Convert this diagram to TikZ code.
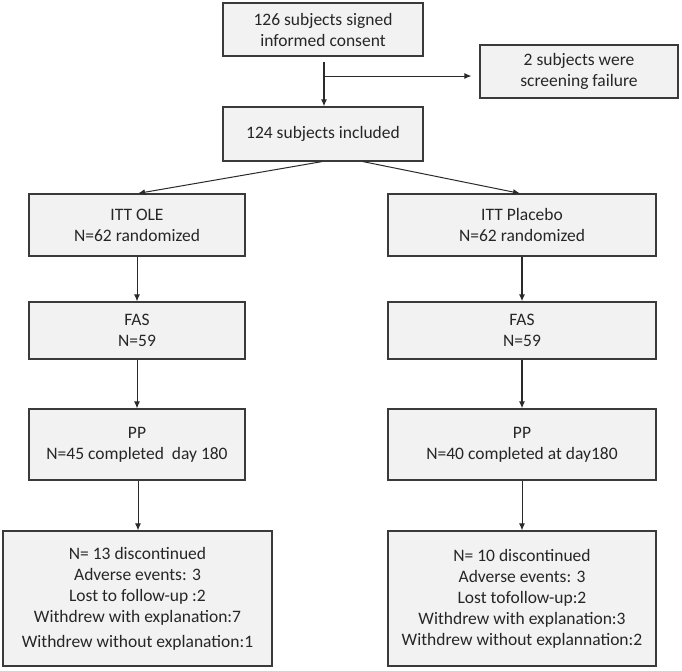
\documentclass[tikz,border=0pt]{standalone}
\usepackage{fontspec}
\setmainfont{Carlito}
\usetikzlibrary{arrows.meta}
\definecolor{boxfill}{HTML}{F2F2F2}
\definecolor{boxline}{HTML}{3A3A3A}
\definecolor{arrline}{HTML}{2A2A2A}
\tikzset{
  box/.style={draw=boxline, line width=1.2pt, fill=boxfill, align=center, inner sep=0pt,
    font=\fontsize{17.5}{21}\selectfont, text=black!85},
  arr/.style={draw=arrline, line width=1pt, -{Latex[length=7pt,width=6pt]}},
  arrthick/.style={arr, line width=1.8pt}
}
\begin{document}
\begin{tikzpicture}[x=1pt,y=-1pt]
\useasboundingbox (0,0) rectangle (682,670);
\node[box, minimum width=200pt, minimum height=53pt] (top) at (323,29.5) {126 subjects signed\\informed consent};
\node[box, minimum width=198pt, minimum height=53pt] (scr) at (579,71.5) {2 subjects were\\screening failure};
\node[box, minimum width=200pt, minimum height=54pt] (inc) at (323,134) {124 subjects included};
\node[box, minimum width=216pt, minimum height=62pt] (ittL) at (137,225) {ITT OLE\\N=62 randomized};
\node[box, minimum width=268pt, minimum height=62pt] (ittR) at (522,225) {ITT Placebo\\N=62 randomized};
\node[box, minimum width=216pt, minimum height=57pt] (fasL) at (137,330.5) {FAS\\N=59};
\node[box, minimum width=268pt, minimum height=57pt] (fasR) at (522,330.5) {FAS\\N=59};
\node[box, minimum width=216pt, minimum height=71pt] (ppL) at (137,444.5) {PP\\N=45 completed\ \ day 180};
\node[box, minimum width=268pt, minimum height=71pt] (ppR) at (522,444.5) {PP\\N=40 completed at day180};
\node[box, minimum width=269pt, minimum height=135pt] (disL) at (137.5,598.5) {N= 13 discontinued\\Adverse events: 3\\Lost to follow-up :2\\Withdrew with explanation:7\\[4pt]Withdrew without explanation:1};
\node[box, minimum width=268pt, minimum height=135pt] (disR) at (522,598.5) {N= 10 discontinued\\Adverse events: 3\\Lost tofollow-up:2\\Withdrew with explanation:3\\Withdrew without explannation:2};
\coordinate (br) at (324,76);
\draw[arrthick] ([xshift=1pt,yshift=-5pt]top.south) -- ([xshift=1pt]inc.north);
\draw[arr] (br) -- ([xshift=-8pt]br -| scr.west);
\draw[arr] ([xshift=-1pt]inc.south) -- ([xshift=1pt]ittL.north);
\draw[arr] ([xshift=40pt]inc.south) -- ([xshift=-2pt]ittR.north);
\draw[arr] (ittL.south) -- (fasL.north);
\draw[arrthick] (ittR.south) -- (fasR.north);
\draw[arr] (fasL.south) -- (ppL.north);
\draw[arrthick] (fasR.south) -- (ppR.north);
\draw[arr] ([xshift=1pt]ppL.south) -- ([xshift=0.5pt]disL.north);
\draw[arr] (ppR.south) -- (disR.north);
\end{tikzpicture}
\end{document}
